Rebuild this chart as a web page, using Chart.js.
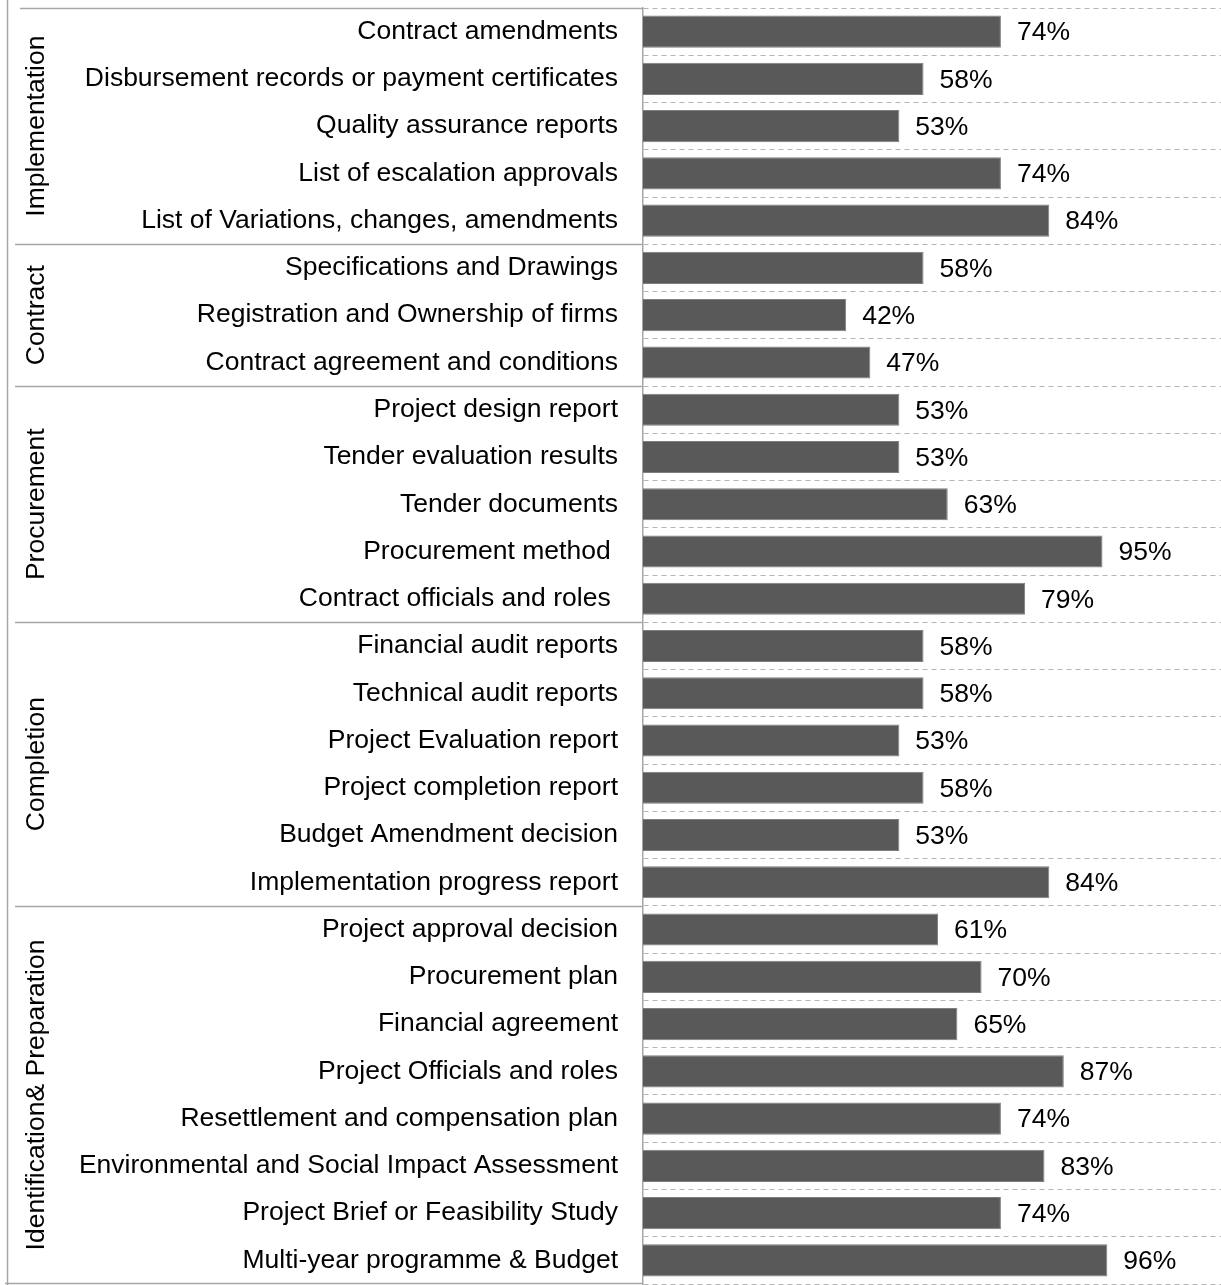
<!DOCTYPE html>
<html>
<head>
<meta charset="utf-8">
<script src="https://cdn.jsdelivr.net/npm/chart.js@4/dist/chart.umd.min.js"></script>
<style>
  html, body { margin: 0; padding: 0; background: #fff; }
  #wrap { width: 1221px; height: 1285px; position: relative; }
</style>
</head>
<body>
<div id="wrap"><canvas id="docChart"></canvas></div>
<script>
// items listed top to bottom
const labels = [
    "Contract amendments",
    "Disbursement records or payment certificates",
    "Quality assurance reports",
    "List of escalation approvals",
    "List of Variations, changes, amendments",
    "Specifications and Drawings",
    "Registration and Ownership of firms",
    "Contract agreement and conditions",
    "Project design report",
    "Tender evaluation results",
    "Tender documents",
    "Procurement method ",
    "Contract officials and roles ",
    "Financial audit reports",
    "Technical audit reports",
    "Project Evaluation report",
    "Project completion report",
    "Budget Amendment decision",
    "Implementation progress report",
    "Project approval decision",
    "Procurement plan",
    "Financial agreement",
    "Project Officials and roles",
    "Resettlement and compensation plan",
    "Environmental and Social Impact Assessment",
    "Project Brief or Feasibility Study",
    "Multi-year programme & Budget"
];
const values = [74, 58, 53, 74, 84, 58, 42, 47, 53, 53, 63, 95, 79, 58, 58, 53, 58, 53, 84, 61, 70, 65, 87, 74, 83, 74, 96];

// phase groups, in the same order as the labels
const groupNames = ["Implementation", "Contract", "Procurement", "Completion", "Identification& Preparation"];
const groupSizes = [5, 3, 5, 6, 8];

const FONT = "Arial, 'Liberation Sans', sans-serif";
Chart.defaults.font.family = FONT;
Chart.defaults.color = '#000';

// percent labels at the end of each bar
const valueLabels = {
    id: 'valueLabels',
    afterDatasetsDraw(chart) {
        const ctx = chart.ctx;
        const meta = chart.getDatasetMeta(0);
        ctx.save();
        ctx.font = "26.5px " + FONT;
        ctx.fillStyle = '#000';
        ctx.textAlign = 'left';
        ctx.textBaseline = 'middle';
        meta.data.forEach((bar, i) => {
            ctx.fillText(values[i] + '%', bar.x + 16, bar.y + 1.5);
        });
        ctx.restore();
    }
};

// group names and separator lines on the left side
const groupAxis = {
    id: 'groupAxis',
    afterDraw(chart) {
        const ctx = chart.ctx;
        const y = chart.scales.y;
        const step = (y.bottom - y.top) / labels.length;
        const axisX = chart.chartArea.left;
        ctx.save();
        ctx.strokeStyle = '#a6a6a6';
        ctx.lineWidth = 1.5;
        // outer left line
        ctx.beginPath();
        ctx.moveTo(7.5, 0);
        ctx.lineTo(7.5, chart.height);
        ctx.stroke();

        let start = 0;
        groupNames.forEach((name, g) => {
            const top = y.getPixelForValue(start) - step / 2;
            const end = start + groupSizes[g] - 1;
            const bottom = y.getPixelForValue(end) + step / 2;
            ctx.beginPath();
            ctx.moveTo(g === 0 ? 20 : 15, Math.round(top) + 0.5);
            ctx.lineTo(axisX, Math.round(top) + 0.5);
            ctx.stroke();
            if (g === groupNames.length - 1) {
                ctx.beginPath();
                ctx.moveTo(5, Math.round(bottom) - 0.5);
                ctx.lineTo(axisX, Math.round(bottom) - 0.5);
                ctx.stroke();
            }
            ctx.save();
            ctx.translate(37, (top + bottom) / 2);
            ctx.rotate(-Math.PI / 2);
            ctx.font = "26.5px " + FONT;
            ctx.fillStyle = '#000';
            ctx.textAlign = 'center';
            ctx.textBaseline = 'middle';
            ctx.fillText(name, 0, 0);
            ctx.restore();
            start += groupSizes[g];
        });
        ctx.restore();
    }
};

const docCtx = document.getElementById('docChart').getContext('2d');
const docChart = new Chart(docCtx, {
    type: 'bar',
    data: {
        labels: labels,
        datasets: [{
            data: values,
            backgroundColor: '#595959',
            borderColor: '#7f7f7f',
            borderWidth: 1,
            barPercentage: 0.68,
            categoryPercentage: 1
        }]
    },
    options: {
        indexAxis: 'y',
        responsive: true,
        maintainAspectRatio: false,
        animation: false,
        layout: { padding: { top: 8, bottom: 1, left: 0, right: 0 } },
        plugins: {
            legend: { display: false },
            tooltip: { enabled: false }
        },
        scales: {
            x: {
                display: false,
                min: 0,
                max: 119.5
            },
            y: {
                afterFit(scale) {
                    scale.width = 643;
                    // no extra room for half label heights
                    scale.paddingTop = 0;
                    scale.paddingBottom = 0;
                },
                grid: {
                    color: '#b4b4b4',
                    lineWidth: 1,
                    drawTicks: false
                },
                border: {
                    display: true,
                    color: '#a6a6a6',
                    width: 1.5,
                    dash: [5, 4]
                },
                ticks: {
                    padding: 25,
                    font: { size: 26.5 },
                    color: '#000',
                    autoSkip: false
                }
            }
        }
    },
    plugins: [valueLabels, groupAxis]
});
</script>
</body>
</html>
